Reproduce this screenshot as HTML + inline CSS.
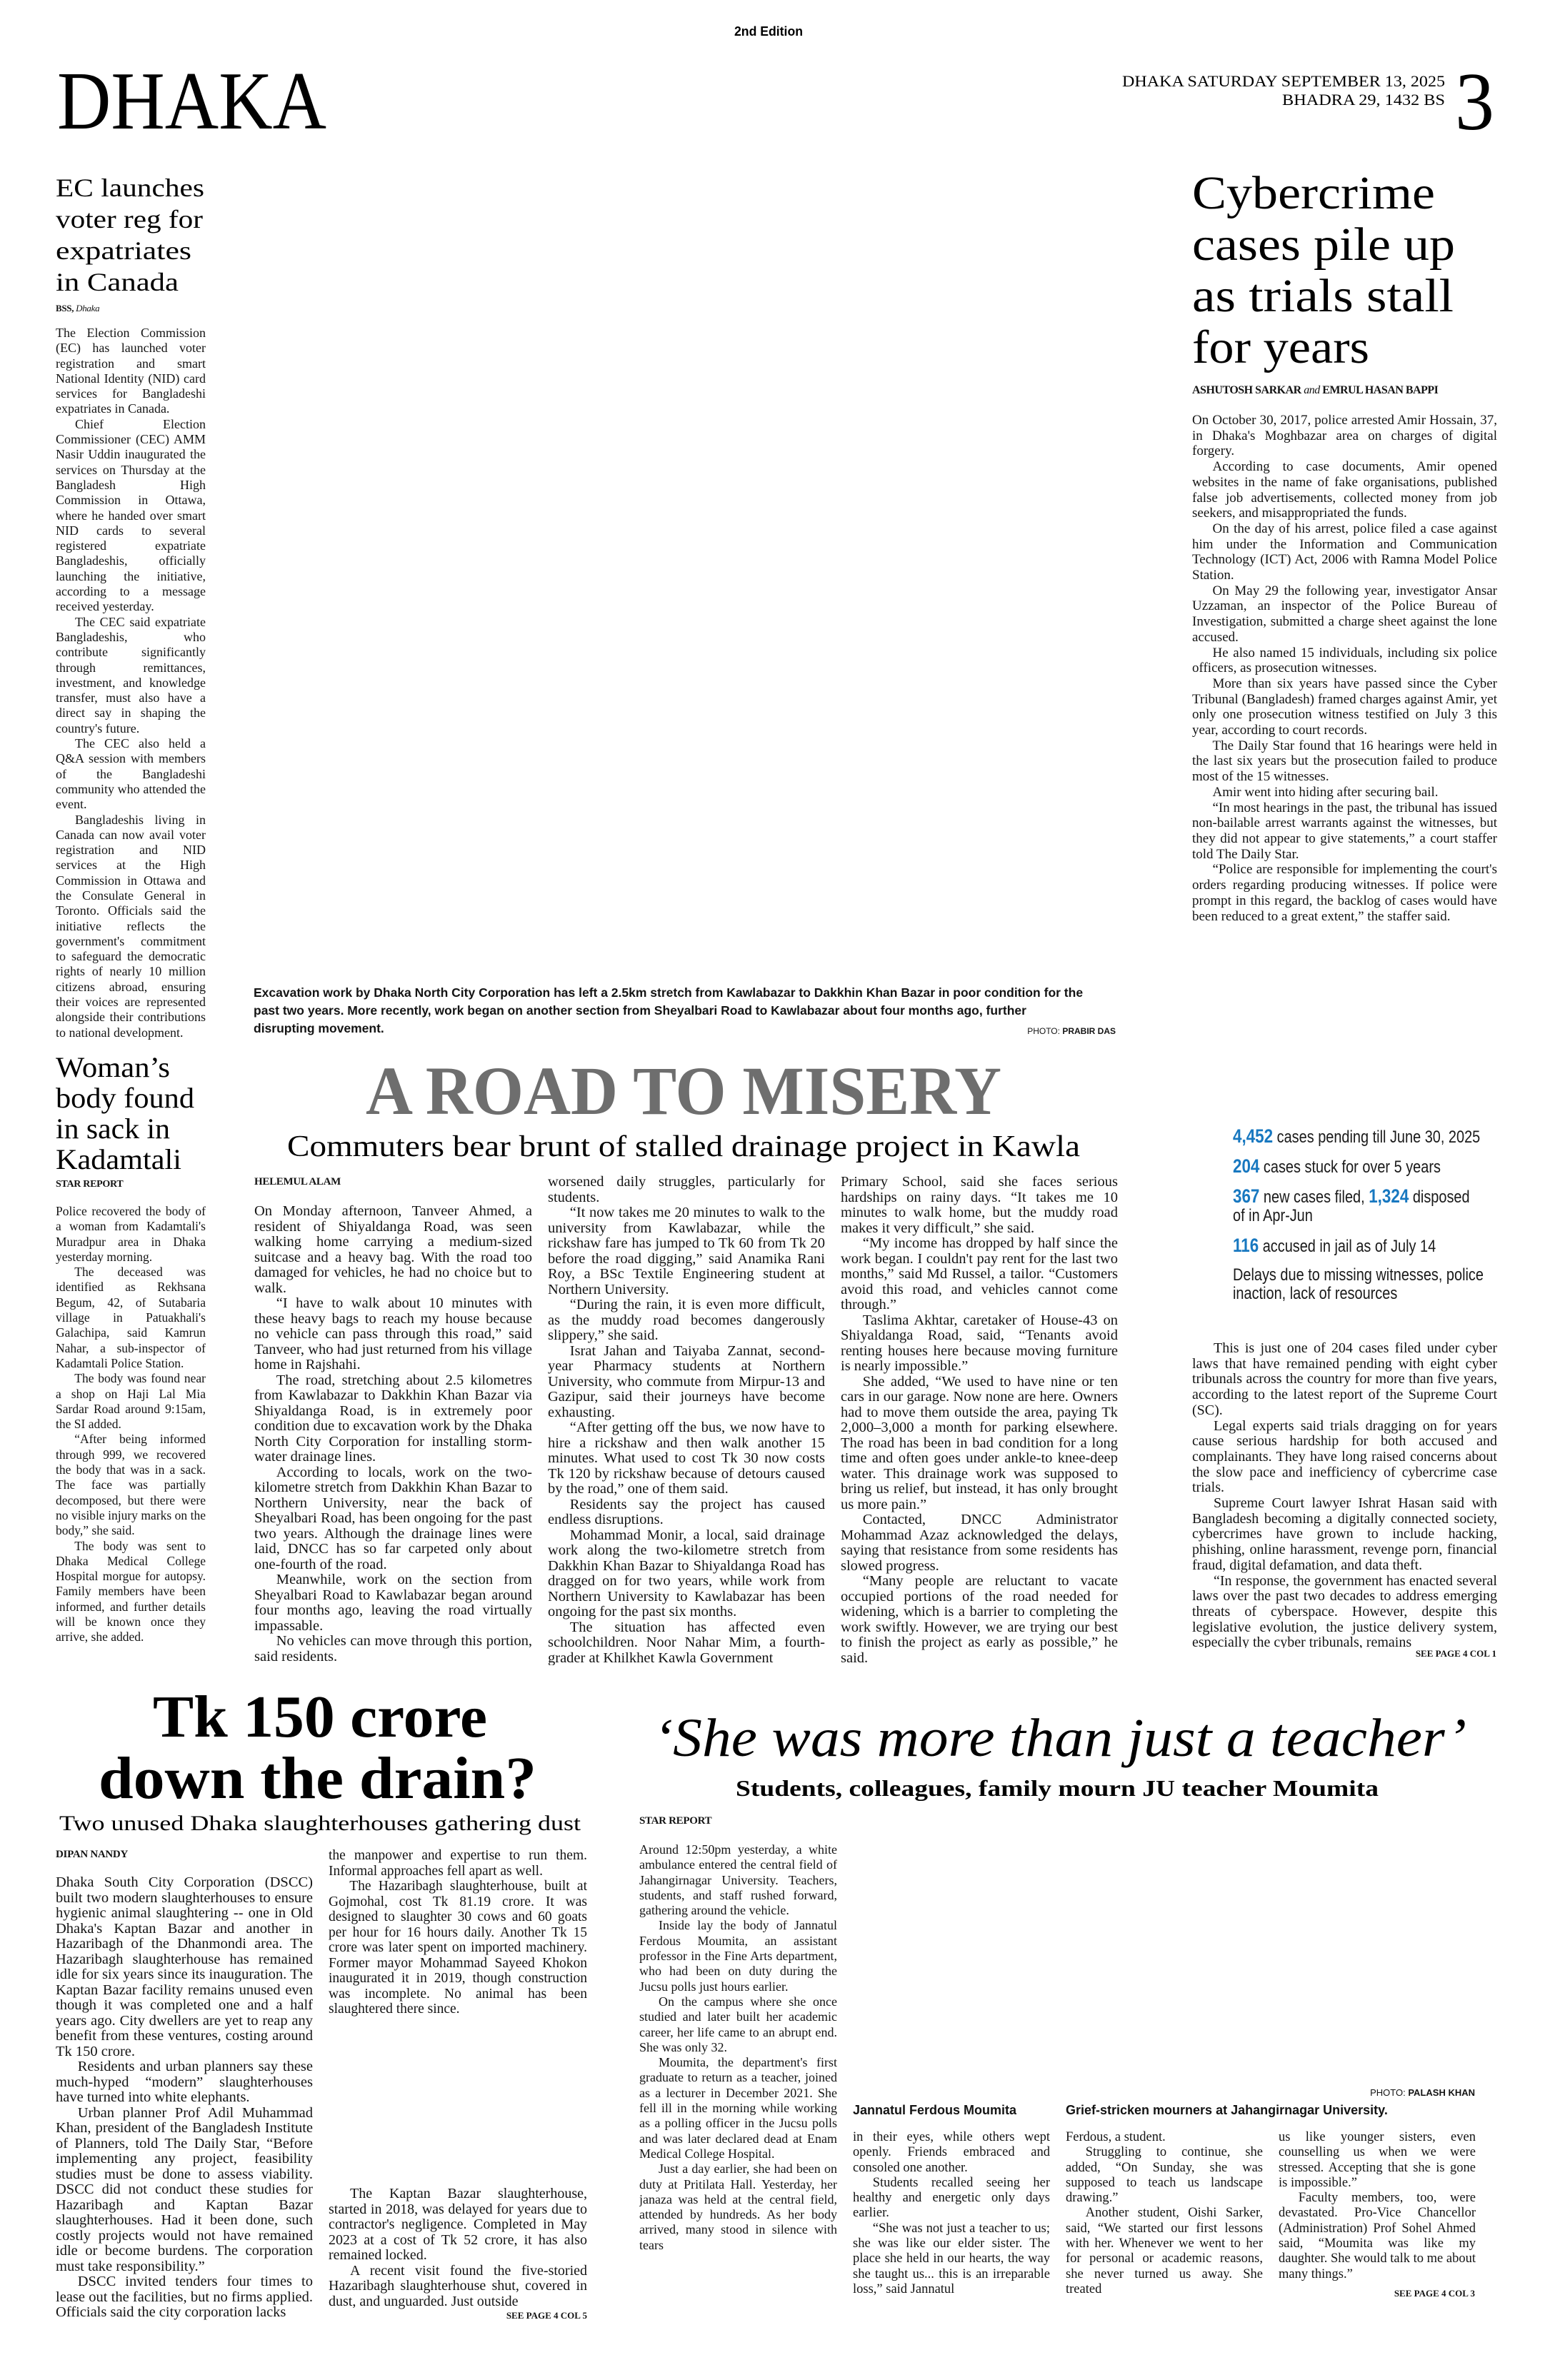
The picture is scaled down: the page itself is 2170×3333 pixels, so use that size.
<!DOCTYPE html>
<html>
<head>
<meta charset="utf-8">
<style>
html,body{margin:0;padding:0;background:#fff;}
body{width:2170px;height:3333px;position:relative;overflow:hidden;color:#141414;font-family:"Liberation Serif",serif;}
.col{position:absolute;text-align:justify;overflow:hidden;hyphens:auto;}
.col p{margin:0;text-indent:1.5em;}
.col p.ni{text-indent:0;}
.by{position:absolute;font-family:"Liberation Serif",serif;font-weight:bold;font-size:15px;letter-spacing:-0.3px;}
.cap{position:absolute;font-family:"Liberation Sans Narrow","Liberation Sans",sans-serif;font-weight:bold;}
.see{position:absolute;font-family:"Liberation Serif",serif;font-weight:bold;font-size:13px;text-align:right;}
.stat{position:absolute;left:1726px;font-family:"Liberation Sans Narrow","Liberation Sans",sans-serif;font-size:24px;line-height:26px;color:#1a1a1a;transform:scaleX(0.83);transform-origin:0 0;white-space:nowrap;}
.stat b{color:#1878c0;font-size:27px;}
svg{position:absolute;left:0;top:0;}
</style>
</head>
<body>
<svg width="2170" height="3333" xmlns="http://www.w3.org/2000/svg">
<text x="1076" y="50" text-anchor="middle" font-family="Liberation Sans" font-weight="bold" font-size="18" textLength="96" lengthAdjust="spacingAndGlyphs">2nd Edition</text>
<text x="80" y="180" font-family="Liberation Serif" font-size="115" textLength="377" lengthAdjust="spacingAndGlyphs">DHAKA</text>
<text x="2023" y="121" text-anchor="end" font-family="Liberation Serif" font-size="22" textLength="452" lengthAdjust="spacingAndGlyphs">DHAKA SATURDAY SEPTEMBER 13, 2025</text>
<text x="2023" y="147" text-anchor="end" font-family="Liberation Serif" font-size="22" textLength="228" lengthAdjust="spacingAndGlyphs">BHADRA 29, 1432 BS</text>
<text x="2037" y="181" font-family="Liberation Serif" font-size="116" textLength="55" lengthAdjust="spacingAndGlyphs">3</text>

<g font-family="Liberation Serif" font-size="36">
<text x="78" y="275" textLength="208" lengthAdjust="spacingAndGlyphs">EC launches</text>
<text x="78" y="319" textLength="206" lengthAdjust="spacingAndGlyphs">voter reg for</text>
<text x="78" y="363" textLength="190" lengthAdjust="spacingAndGlyphs">expatriates</text>
<text x="78" y="407" textLength="172" lengthAdjust="spacingAndGlyphs">in Canada</text>
</g>
<g font-family="Liberation Serif" font-size="40">
<text x="78" y="1508" textLength="160" lengthAdjust="spacingAndGlyphs">Woman’s</text>
<text x="78" y="1551" textLength="194" lengthAdjust="spacingAndGlyphs">body found</text>
<text x="78" y="1594" textLength="160" lengthAdjust="spacingAndGlyphs">in sack in</text>
<text x="78" y="1637" textLength="176" lengthAdjust="spacingAndGlyphs">Kadamtali</text>
</g>
<g font-family="Liberation Serif" font-size="66">
<text x="1669" y="292" textLength="340" lengthAdjust="spacingAndGlyphs">Cybercrime</text>
<text x="1669" y="364" textLength="368" lengthAdjust="spacingAndGlyphs">cases pile up</text>
<text x="1669" y="436" textLength="366" lengthAdjust="spacingAndGlyphs">as trials stall</text>
<text x="1669" y="508" textLength="248" lengthAdjust="spacingAndGlyphs">for years</text>
</g>

<text x="512" y="1560" font-family="Liberation Serif" font-weight="bold" font-size="96" fill="#6e6e6e" textLength="890" lengthAdjust="spacingAndGlyphs">A ROAD TO MISERY</text>
<text x="402" y="1619" font-family="Liberation Serif" font-size="42" textLength="1110" lengthAdjust="spacingAndGlyphs">Commuters bear brunt of stalled drainage project in Kawla</text>

<text x="214" y="2432" font-family="Liberation Serif" font-weight="bold" font-size="84" textLength="468" lengthAdjust="spacingAndGlyphs">Tk 150 crore</text>
<text x="138" y="2518" font-family="Liberation Serif" font-weight="bold" font-size="84" textLength="613" lengthAdjust="spacingAndGlyphs">down the drain?</text>
<text x="83" y="2563" font-family="Liberation Serif" font-size="30" textLength="730" lengthAdjust="spacingAndGlyphs">Two unused Dhaka slaughterhouses gathering dust</text>

<text x="915" y="2459" font-family="Liberation Serif" font-style="italic" font-size="76" textLength="1138" lengthAdjust="spacingAndGlyphs">‘She was more than just a teacher’</text>
<text x="1030" y="2515" font-family="Liberation Serif" font-weight="bold" font-size="32" textLength="900" lengthAdjust="spacingAndGlyphs">Students, colleagues, family mourn JU teacher Moumita</text>
</svg>

<div class="by" style="left:78px;top:424px;font-size:13px;">BSS, <i style="font-weight:normal">Dhaka</i></div>
<div class="col" style="left:78px;top:456px;width:210px;height:1000px;font-size:18px;line-height:21.3px;">
<p class="ni">The Election Commission (EC) has launched voter registration and smart National Identity (NID) card services for Bangladeshi expatriates in Canada.</p>
<p>Chief Election Commissioner (CEC) AMM Nasir Uddin inaugurated the services on Thursday at the Bangladesh High Commission in Ottawa, where he handed over smart NID cards to several registered expatriate Bangladeshis, officially launching the initiative, according to a message received yesterday.</p>
<p>The CEC said expatriate Bangladeshis, who contribute significantly through remittances, investment, and knowledge transfer, must also have a direct say in shaping the country's future.</p>
<p>The CEC also held a Q&amp;A session with members of the Bangladeshi community who attended the event.</p>
<p>Bangladeshis living in Canada can now avail voter registration and NID services at the High Commission in Ottawa and the Consulate General in Toronto. Officials said the initiative reflects the government's commitment to safeguard the democratic rights of nearly 10 million citizens abroad, ensuring their voices are represented alongside their contributions to national development.</p>
</div>

<div class="by" style="left:78px;top:1651px;font-size:14px;">STAR REPORT</div>
<div class="col" style="left:78px;top:1686px;width:210px;height:645px;font-size:17.5px;line-height:21.3px;">
<p class="ni">Police recovered the body of a woman from Kadamtali's Muradpur area in Dhaka yesterday morning.</p>
<p>The deceased was identified as Rekhsana Begum, 42, of Sutabaria village in Patuakhali's Galachipa, said Kamrun Nahar, a sub-inspector of Kadamtali Police Station.</p>
<p>The body was found near a shop on Haji Lal Mia Sardar Road around 9:15am, the SI added.</p>
<p>“After being informed through 999, we recovered the body that was in a sack. The face was partially decomposed, but there were no visible injury marks on the body,” she said.</p>
<p>The body was sent to Dhaka Medical College Hospital morgue for autopsy. Family members have been informed, and further details will be known once they arrive, she added.</p>
</div>

<div class="cap" style="left:355px;top:1378px;width:1170px;font-size:17.5px;line-height:25px;">Excavation work by Dhaka North City Corporation has left a 2.5km stretch from Kawlabazar to Dakkhin Khan Bazar in poor condition for the past two years. More recently, work began on another section from Sheyalbari Road to Kawlabazar about four months ago, further disrupting movement.</div>
<div class="cap" style="left:1350px;top:1437px;width:212px;text-align:right;font-size:12px;"><span style="font-weight:normal">PHOTO:</span> PRABIR DAS</div>

<div class="by" style="left:356px;top:1647px;">HELEMUL ALAM</div>
<div class="col" style="left:356px;top:1686px;width:389px;height:646px;font-size:20.5px;line-height:21.5px;">
<p class="ni">On Monday afternoon, Tanveer Ahmed, a resident of Shiyaldanga Road, was seen walking home carrying a medium-sized suitcase and a heavy bag. With the road too damaged for vehicles, he had no choice but to walk.</p>
<p>“I have to walk about 10 minutes with these heavy bags to reach my house because no vehicle can pass through this road,” said Tanveer, who had just returned from his village home in Rajshahi.</p>
<p>The road, stretching about 2.5 kilometres from Kawlabazar to Dakkhin Khan Bazar via Shiyaldanga Road, is in extremely poor condition due to excavation work by the Dhaka North City Corporation for installing storm-water drainage lines.</p>
<p>According to locals, work on the two-kilometre stretch from Dakkhin Khan Bazar to Northern University, near the back of Sheyalbari Road, has been ongoing for the past two years. Although the drainage lines were laid, DNCC has so far carpeted only about one-fourth of the road.</p>
<p>Meanwhile, work on the section from Sheyalbari Road to Kawlabazar began around four months ago, leaving the road virtually impassable.</p>
<p>No vehicles can move through this portion, said residents.</p>
<p>The poor condition of the road has</p>
</div>
<div class="col" style="left:767px;top:1645px;width:388px;height:687px;font-size:20.5px;line-height:21.5px;">
<p class="ni">worsened daily struggles, particularly for students.</p>
<p>“It now takes me 20 minutes to walk to the university from Kawlabazar, while the rickshaw fare has jumped to Tk 60 from Tk 20 before the road digging,” said Anamika Rani Roy, a BSc Textile Engineering student at Northern University.</p>
<p>“During the rain, it is even more difficult, as the muddy road becomes dangerously slippery,” she said.</p>
<p>Israt Jahan and Taiyaba Zannat, second-year Pharmacy students at Northern University, who commute from Mirpur-13 and Gazipur, said their journeys have become exhausting.</p>
<p>“After getting off the bus, we now have to hire a rickshaw and then walk another 15 minutes. What used to cost Tk 30 now costs Tk 120 by rickshaw because of detours caused by the road,” one of them said.</p>
<p>Residents say the project has caused endless disruptions.</p>
<p>Mohammad Monir, a local, said drainage work along the two-kilometre stretch from Dakkhin Khan Bazar to Shiyaldanga Road has dragged on for two years, while work from Northern University to Kawlabazar has been ongoing for the past six months.</p>
<p>The situation has affected even schoolchildren. Noor Nahar Mim, a fourth-grader at Khilkhet Kawla Government</p>
</div>
<div class="col" style="left:1177px;top:1645px;width:388px;height:687px;font-size:20.5px;line-height:21.5px;">
<p class="ni">Primary School, said she faces serious hardships on rainy days. “It takes me 10 minutes to walk home, but the muddy road makes it very difficult,” she said.</p>
<p>“My income has dropped by half since the work began. I couldn't pay rent for the last two months,” said Md Russel, a tailor. “Customers avoid this road, and vehicles cannot come through.”</p>
<p>Taslima Akhtar, caretaker of House-43 on Shiyaldanga Road, said, “Tenants avoid renting houses here because moving furniture is nearly impossible.”</p>
<p>She added, “We used to have nine or ten cars in our garage. Now none are here. Owners had to move them outside the area, paying Tk 2,000–3,000 a month for parking elsewhere. The road has been in bad condition for a long time and often goes under ankle-to knee-deep water. This drainage work was supposed to bring us relief, but instead, it has only brought us more pain.”</p>
<p>Contacted, DNCC Administrator Mohammad Azaz acknowledged the delays, saying that resistance from some residents has slowed progress.</p>
<p>“Many people are reluctant to vacate occupied portions of the road needed for widening, which is a barrier to completing the work swiftly. However, we are trying our best to finish the project as early as possible,” he said.</p>
</div>

<div class="by" style="left:1669px;top:538px;font-size:16px;letter-spacing:-0.5px;">ASHUTOSH SARKAR <i style="font-weight:normal">and</i> EMRUL HASAN BAPPI</div>
<div class="col" style="left:1669px;top:578px;width:427px;height:735px;font-size:19px;line-height:21.7px;">
<p class="ni">On October 30, 2017, police arrested Amir Hossain, 37, in Dhaka's Moghbazar area on charges of digital forgery.</p>
<p>According to case documents, Amir opened websites in the name of fake organisations, published false job advertisements, collected money from job seekers, and misappropriated the funds.</p>
<p>On the day of his arrest, police filed a case against him under the Information and Communication Technology (ICT) Act, 2006 with Ramna Model Police Station.</p>
<p>On May 29 the following year, investigator Ansar Uzzaman, an inspector of the Police Bureau of Investigation, submitted a charge sheet against the lone accused.</p>
<p>He also named 15 individuals, including six police officers, as prosecution witnesses.</p>
<p>More than six years have passed since the Cyber Tribunal (Bangladesh) framed charges against Amir, yet only one prosecution witness testified on July 3 this year, according to court records.</p>
<p>The Daily Star found that 16 hearings were held in the last six years but the prosecution failed to produce most of the 15 witnesses.</p>
<p>Amir went into hiding after securing bail.</p>
<p>“In most hearings in the past, the tribunal has issued non-bailable arrest warrants against the witnesses, but they did not appear to give statements,” a court staffer told The Daily Star.</p>
<p>“Police are responsible for implementing the court's orders regarding producing witnesses. If police were prompt in this regard, the backlog of cases would have been reduced to a great extent,” the staffer said.</p>
</div>

<div class="stat" style="top:1578px;"><b>4,452</b> cases pending till June 30, 2025</div>
<div class="stat" style="top:1620px;"><b>204</b> cases stuck for over 5 years</div>
<div class="stat" style="top:1662px;"><b>367</b> new cases filed, <b>1,324</b> disposed<br>of in Apr-Jun</div>
<div class="stat" style="top:1731px;"><b>116</b> accused in jail as of July 14</div>
<div class="stat" style="top:1773px;">Delays due to missing witnesses, police<br>inaction, lack of resources</div>

<div class="col" style="left:1669px;top:1878px;width:427px;height:430px;font-size:20px;line-height:21.7px;">
<p>This is just one of 204 cases filed under cyber laws that have remained pending with eight cyber tribunals across the country for more than five years, according to the latest report of the Supreme Court (SC).</p>
<p>Legal experts said trials dragging on for years cause serious hardship for both accused and complainants. They have long raised concerns about the slow pace and inefficiency of cybercrime case trials.</p>
<p>Supreme Court lawyer Ishrat Hasan said with Bangladesh becoming a digitally connected society, cybercrimes have grown to include hacking, phishing, online harassment, revenge porn, financial fraud, digital defamation, and data theft.</p>
<p>“In response, the government has enacted several laws over the past two decades to address emerging threats of cyberspace. However, despite this legislative evolution, the justice delivery system, especially the cyber tribunals, remains</p>
</div>
<div class="see" style="left:1895px;top:2308px;width:200px;">SEE PAGE 4 COL 1</div>

<div class="by" style="left:78px;top:2589px;">DIPAN NANDY</div>
<div class="col" style="left:78px;top:2626px;width:360px;height:628px;font-size:20.5px;line-height:21.5px;">
<p class="ni">Dhaka South City Corporation (DSCC) built two modern slaughterhouses to ensure hygienic animal slaughtering -- one in Old Dhaka's Kaptan Bazar and another in Hazaribagh of the Dhanmondi area. The Hazaribagh slaughterhouse has remained idle for six years since its inauguration. The Kaptan Bazar facility remains unused even though it was completed one and a half years ago. City dwellers are yet to reap any benefit from these ventures, costing around Tk 150 crore.</p>
<p>Residents and urban planners say these much-hyped “modern” slaughterhouses have turned into white elephants.</p>
<p>Urban planner Prof Adil Muhammad Khan, president of the Bangladesh Institute of Planners, told The Daily Star, “Before implementing any project, feasibility studies must be done to assess viability. DSCC did not conduct these studies for Hazaribagh and Kaptan Bazar slaughterhouses. Had it been done, such costly projects would not have remained idle or become burdens. The corporation must take responsibility.”</p>
<p>DSCC invited tenders four times to lease out the facilities, but no firms applied. Officials said the city corporation lacks</p>
</div>
<div class="col" style="left:460px;top:2588px;width:362px;height:240px;font-size:19.5px;line-height:21.5px;">
<p class="ni">the manpower and expertise to run them. Informal approaches fell apart as well.</p>
<p>The Hazaribagh slaughterhouse, built at Gojmohal, cost Tk 81.19 crore. It was designed to slaughter 30 cows and 60 goats per hour for 16 hours daily. Another Tk 15 crore was later spent on imported machinery. Former mayor Mohammad Sayeed Khokon inaugurated it in 2019, though construction was incomplete. No animal has been slaughtered there since.</p>
</div>
<div class="col" style="left:460px;top:3062px;width:362px;height:172px;font-size:20px;line-height:21.5px;">
<p>The Kaptan Bazar slaughterhouse, started in 2018, was delayed for years due to contractor's negligence. Completed in May 2023 at a cost of Tk 52 crore, it has also remained locked.</p>
<p>A recent visit found the five-storied Hazaribagh slaughterhouse shut, covered in dust, and unguarded. Just outside</p>
</div>
<div class="see" style="left:622px;top:3235px;width:200px;">SEE PAGE 4 COL 5</div>

<div class="by" style="left:895px;top:2542px;">STAR REPORT</div>
<div class="col" style="left:895px;top:2580px;width:277px;height:642px;font-size:18px;line-height:21.3px;">
<p class="ni">Around 12:50pm yesterday, a white ambulance entered the central field of Jahangirnagar University. Teachers, students, and staff rushed forward, gathering around the vehicle.</p>
<p>Inside lay the body of Jannatul Ferdous Moumita, an assistant professor in the Fine Arts department, who had been on duty during the Jucsu polls just hours earlier.</p>
<p>On the campus where she once studied and later built her academic career, her life came to an abrupt end. She was only 32.</p>
<p>Moumita, the department's first graduate to return as a teacher, joined as a lecturer in December 2021. She fell ill in the morning while working as a polling officer in the Jucsu polls and was later declared dead at Enam Medical College Hospital.</p>
<p>Just a day earlier, she had been on duty at Pritilata Hall. Yesterday, her janaza was held at the central field, attended by hundreds. As her body arrived, many stood in silence with tears</p>
</div>
<div class="cap" style="left:1865px;top:2923px;width:200px;text-align:right;font-size:13px;"><span style="font-weight:normal">PHOTO:</span> PALASH KHAN</div>
<div class="cap" style="left:1194px;top:2945px;font-size:18px;">Jannatul Ferdous Moumita</div>
<div class="cap" style="left:1492px;top:2945px;font-size:18px;">Grief-stricken mourners at Jahangirnagar University.</div>
<div class="col" style="left:1194px;top:2983px;width:276px;height:236px;font-size:18.5px;line-height:21.3px;">
<p class="ni">in their eyes, while others wept openly. Friends embraced and consoled one another.</p>
<p>Students recalled seeing her healthy and energetic only days earlier.</p>
<p>“She was not just a teacher to us; she was like our elder sister. The place she held in our hearts, the way she taught us... this is an irreparable loss,” said Jannatul</p>
</div>
<div class="col" style="left:1492px;top:2983px;width:276px;height:236px;font-size:18.5px;line-height:21.3px;">
<p class="ni">Ferdous, a student.</p>
<p>Struggling to continue, she added, “On Sunday, she was supposed to teach us landscape drawing.”</p>
<p>Another student, Oishi Sarker, said, “We started our first lessons with her. Whenever we went to her for personal or academic reasons, she never turned us away. She treated</p>
</div>
<div class="col" style="left:1790px;top:2983px;width:276px;height:214px;font-size:18.5px;line-height:21.3px;">
<p class="ni">us like younger sisters, even counselling us when we were stressed. Accepting that she is gone is impossible.”</p>
<p>Faculty members, too, were devastated. Pro-Vice Chancellor (Administration) Prof Sohel Ahmed said, “Moumita was like my daughter. She would talk to me about many things.”</p>
</div>
<div class="see" style="left:1865px;top:3204px;width:200px;">SEE PAGE 4 COL 3</div>
</body>
</html>
